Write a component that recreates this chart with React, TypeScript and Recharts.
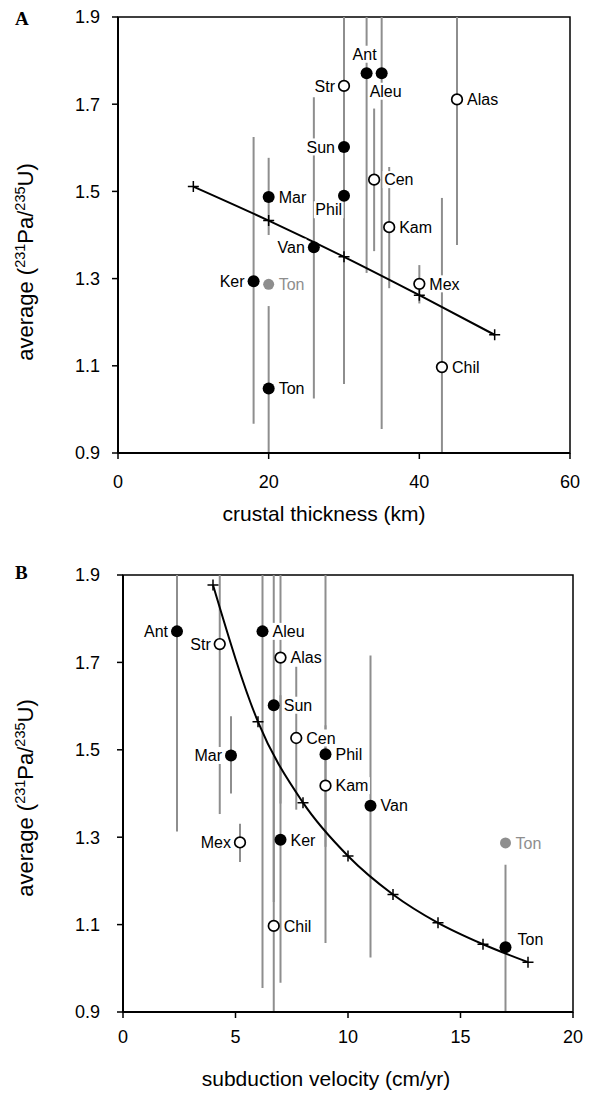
import React from "react";
import { ComposedChart, Scatter, Line, XAxis, YAxis, ErrorBar, ReferenceArea, Label } from "recharts";

const FONT = '"Liberation Sans", Arial, sans-serif';

// arc segments, in the order they are listed below
const regions = ["Ant", "Aleu", "Str", "Alas", "Sun", "Cen", "Mar", "Phil", "Kam", "Van", "Ker", "Ton", "Mex", "Chil"];
const symbolType = ["solid", "solid", "hollow", "hollow", "solid", "hollow", "solid", "solid", "hollow", "solid", "solid", "solid", "hollow", "hollow"];
const avgPaU = [1.771, 1.771, 1.742, 1.711, 1.602, 1.527, 1.487, 1.49, 1.418, 1.372, 1.294, 1.048, 1.288, 1.097];
// visible ends of the ranges (bars that run off the plot stop at the frame)
const rangeLow = [1.313, 0.955, 1.353, 1.377, 1.152, 1.363, 1.4, 1.058, 1.278, 1.025, 0.967, 0.9, 1.243, 0.9];
const rangeHigh = [1.9, 1.9, 1.9, 1.9, 1.9, 1.69, 1.577, 1.9, 1.556, 1.716, 1.625, 1.237, 1.331, 1.485];
const crustalThickness = [33, 35, 30, 45, 30, 34, 20, 30, 36, 26, 18, 20, 40, 43];
const subductionVelocity = [2.4, 6.2, 4.3, 7.0, 6.7, 7.7, 4.8, 9.0, 9.0, 11.0, 7.0, 17.0, 5.2, 6.7];

// second Tonga estimate, drawn grey with no range
const tongaAltThickness = 20;
const tongaAltVelocity = 17;
const tongaAltAvg = 1.287;

const fitThicknessX = [10, 20, 30, 40, 50];
const fitThicknessY = [1.511, 1.433, 1.35, 1.262, 1.171];
const fitVelocityX = [4, 6, 8, 10, 12, 14, 16, 18];
const fitVelocityY = [1.877, 1.564, 1.379, 1.257, 1.169, 1.104, 1.055, 1.014];

const yTicks = [0.9, 1.1, 1.3, 1.5, 1.7, 1.9];
const thicknessTicks = [0, 20, 40, 60];
const velocityTicks = [0, 5, 10, 15, 20];

type Pt = { x: number; y: number; name: string; kind: string; err?: number[] };

const pointsFor = (xs: number[], altX: number): Pt[] => [
  ...regions.map((name, i) => ({
    x: xs[i],
    y: avgPaU[i],
    name,
    kind: symbolType[i],
    err: [avgPaU[i] - rangeLow[i], rangeHigh[i] - avgPaU[i]],
  })),
  { x: altX, y: tongaAltAvg, name: "Ton", kind: "grey" },
];

const pointsA = pointsFor(crustalThickness, tongaAltThickness);
const pointsB = pointsFor(subductionVelocity, tongaAltVelocity);
const barsA = pointsA.filter((p) => p.err);
const barsB = pointsB.filter((p) => p.err);
const fitA = fitThicknessX.map((x, i) => ({ x, y: fitThicknessY[i] }));
const fitB = fitVelocityX.map((x, i) => ({ x, y: fitVelocityY[i] }));

// rough Arial advance widths, for the white box behind each label
const charW: Record<string, number> = {
  A: 0.667, C: 0.722, K: 0.667, M: 0.833, P: 0.667, S: 0.667, T: 0.611, V: 0.667,
  a: 0.556, e: 0.556, h: 0.556, i: 0.222, l: 0.222, m: 0.833, n: 0.556, o: 0.556, r: 0.333, s: 0.5, t: 0.278, u: 0.556, x: 0.5,
};
const textWidth = (s: string, fs: number) => s.split("").reduce((w, c) => w + (charW[c] ?? 0.556), 0) * fs;

type Side = "left" | "right" | "above" | "below" | "belowLeft" | "aboveRight";
const sidesA: Record<string, Side> = { Ant: "above", Aleu: "below", Str: "left", Sun: "left", Phil: "belowLeft", Van: "left", Ker: "left" };
const sidesB: Record<string, Side> = { Ant: "left", Str: "left", Mar: "left", Mex: "left", Ton: "aboveRight" };

const LABEL_FS = 16;
const GREY = "#8e8e8e";

const makePoint = (sides: Record<string, Side>) => (props: any) => {
  const { cx, cy, payload } = props;
  const p = payload as Pt;
  const grey = p.kind === "grey";
  const side: Side = grey ? "right" : sides[p.name] ?? "right";
  const w = textWidth(p.name, LABEL_FS);
  let tx = cx + 10;
  let ty = cy;
  let anchor: "start" | "end" | "middle" = "start";
  if (side === "left") { tx = cx - 9; anchor = "end"; }
  if (side === "above") { tx = cx - 2; ty = cy - 19; anchor = "middle"; }
  if (side === "below") { tx = cx + 4; ty = cy + 18; anchor = "middle"; }
  if (side === "belowLeft") { tx = cx - 2; ty = cy + 14; anchor = "end"; }
  if (side === "aboveRight") { tx = cx + 12; ty = cy - 8; }
  const left = anchor === "start" ? tx : anchor === "end" ? tx - w : tx - w / 2;
  return (
    <g>
      <rect x={left - 1.5} y={ty - 8.5} width={w + 3} height={17} fill="#fff" />
      <text x={tx} y={ty + 5.7} textAnchor={anchor} fontSize={LABEL_FS} fontFamily={FONT} fill={grey ? GREY : "#000"}>
        {p.name}
      </text>
      {p.kind === "solid" && <circle cx={cx} cy={cy} r={6} fill="#000" />}
      {p.kind === "hollow" && <circle cx={cx} cy={cy} r={5.3} fill="#fff" stroke="#000" strokeWidth={1.7} />}
      {grey && <circle cx={cx} cy={cy} r={5.5} fill={GREY} />}
    </g>
  );
};

const cross = (props: any) => {
  const { cx, cy, index } = props;
  return (
    <path
      key={`c${index}`}
      d={`M${cx - 5.5},${cy}H${cx + 5.5}M${cx},${cy - 5.5}V${cy + 5.5}`}
      stroke="#000"
      strokeWidth={1.5}
      fill="none"
    />
  );
};

const yTitle = (cy: number) => () => (
  <text x={33} y={cy} transform={`rotate(-90 33 ${cy})`} textAnchor="middle" fontSize={22} fontFamily={FONT} fill="#000">
    {"average ("}
    <tspan dy={-8} fontSize={14.5}>231</tspan>
    <tspan dy={8}>Pa/</tspan>
    <tspan dy={-8} fontSize={14.5}>235</tspan>
    <tspan dy={8}>U)</tspan>
  </text>
);

const xTitle = (text: string, cx: number, baseline: number) => () => (
  <text x={cx} y={baseline} textAnchor="middle" fontSize={21} fontFamily={FONT} fill="#000">
    {text}
  </text>
);

const tickStyle = { fontSize: 18, fill: "#000", fontFamily: FONT };
const axisLine = { stroke: "#000", strokeWidth: 2 };
const tickLine = { stroke: "#000", strokeWidth: 1.5 };

const Panel = ({
  width, height, margin, yWidth, xMax, xTicks, yTickMargin, xTickMargin, bars, points, fit, sides, xLabel, xLabelX, xLabelY, yLabelY,
}: any) => (
  <ComposedChart width={width} height={height} margin={margin}>
    <XAxis
      type="number"
      dataKey="x"
      domain={[0, xMax]}
      ticks={xTicks}
      allowDataOverflow
      height={60}
      axisLine={axisLine}
      tickLine={tickLine}
      tickSize={6}
      tickMargin={xTickMargin}
      tick={tickStyle}
    >
      <Label content={xTitle(xLabel, xLabelX, xLabelY)} />
    </XAxis>
    <YAxis
      type="number"
      dataKey="y"
      domain={[0.9, 1.9]}
      ticks={yTicks}
      allowDataOverflow
      width={yWidth}
      axisLine={axisLine}
      tickLine={tickLine}
      tickSize={6}
      tickMargin={yTickMargin}
      tick={tickStyle}
      tickFormatter={(v: number) => v.toFixed(1)}
    >
      <Label content={yTitle(yLabelY)} />
    </YAxis>
    <ReferenceArea x1={0} x2={xMax} y1={0.9} y2={1.9} fill="none" stroke="#000" strokeWidth={1.5} />
    <Scatter data={bars} shape={() => <g />} isAnimationActive={false}>
      <ErrorBar dataKey="err" direction="y" width={0} stroke={GREY} strokeWidth={2} isAnimationActive={false} />
    </Scatter>
    <Line data={fit} dataKey="y" type="monotone" stroke="#000" strokeWidth={2} dot={cross} activeDot={false} isAnimationActive={false} />
    <Scatter data={points} shape={makePoint(sides)} isAnimationActive={false} />
  </ComposedChart>
);

const letterFont = '"Liberation Serif", "Times New Roman", serif';

export default function App() {
  return (
    <div style={{ position: "absolute", left: 0, top: 0, width: 593, height: 1093, background: "#fff" }}>
      <div style={{ position: "absolute", left: 0, top: 0 }}>
        <Panel
          width={593}
          height={540}
          margin={{ top: 17, right: 23, bottom: 27, left: 0 }}
          yWidth={118}
          xMax={60}
          xTicks={thicknessTicks}
          yTickMargin={12}
          xTickMargin={16}
          bars={barsA}
          points={pointsA}
          fit={fitA}
          sides={sidesA}
          xLabel="crustal thickness (km)"
          xLabelX={324}
          xLabelY={521}
          yLabelY={262}
        />
      </div>
      <div style={{ position: "absolute", left: 0, top: 540 }}>
        <Panel
          width={593}
          height={553}
          margin={{ top: 35, right: 20, bottom: 21, left: 0 }}
          yWidth={123}
          xMax={20}
          xTicks={velocityTicks}
          yTickMargin={17}
          xTickMargin={12}
          bars={barsB}
          points={pointsB}
          fit={fitB}
          sides={sidesB}
          xLabel="subduction velocity (cm/yr)"
          xLabelX={326}
          xLabelY={546}
          yLabelY={258}
        />
      </div>
      <svg width={593} height={1093} style={{ position: "absolute", left: 0, top: 0, pointerEvents: "none" }}>
        <text x={15} y={25} fontSize={19} fontWeight="bold" fontFamily={letterFont}>A</text>
        <text x={15} y={579} fontSize={19} fontWeight="bold" fontFamily={letterFont}>B</text>
      </svg>
    </div>
  );
}
